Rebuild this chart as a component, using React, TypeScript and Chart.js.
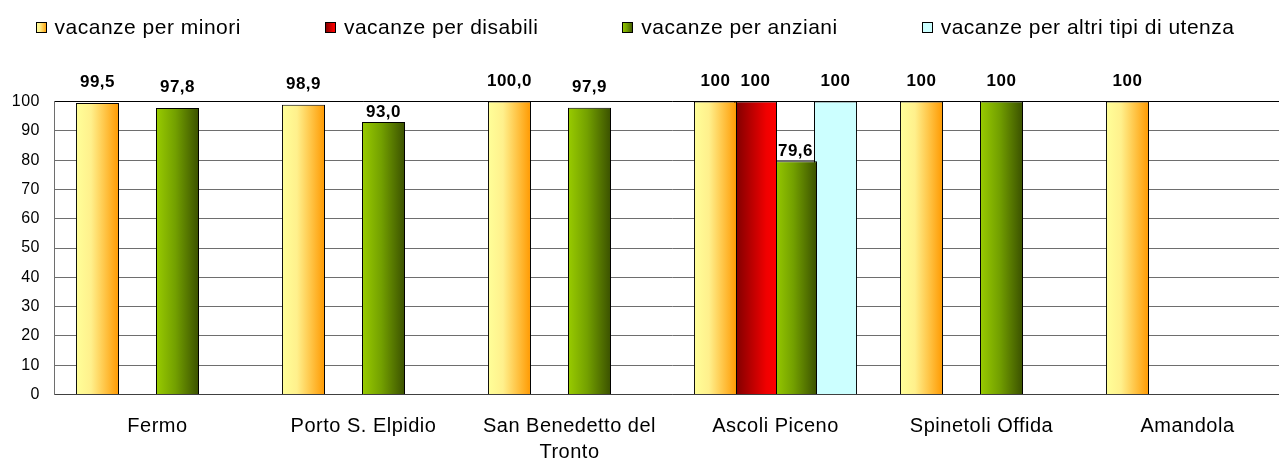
import React, { useEffect, useRef } from 'react';
import { Chart, registerables } from 'chart.js';

Chart.register(...registerables);

const FONT = "'Liberation Sans', Arial, Helvetica, sans-serif";

const categories: string[][] = [
  ['Fermo'],
  ['Porto S. Elpidio'],
  ['San Benedetto del', 'Tronto'],
  ['Ascoli Piceno'],
  ['Spinetoli Offida'],
  ['Amandola'],
];

const seriesNames = [
  'vacanze per minori',
  'vacanze per disabili',
  'vacanze per anziani',
  'vacanze per altri tipi di utenza',
];

const minori: (number | null)[] = [99.5, 98.9, 100, 100, 100, 100];
const disabili: (number | null)[] = [null, null, null, 100, null, null];
const anziani: (number | null)[] = [97.8, 93.0, 97.9, 79.6, 100, null];
const altri: (number | null)[] = [null, null, null, 100, null, null];

const minoriLabels = ['99,5', '98,9', '100,0', '100', '100', '100'];
const disabiliLabels = ['', '', '', '100', '', ''];
const anzianiLabels = ['97,8', '93,0', '97,9', '79,6', '100', ''];
const altriLabels = ['', '', '', '100', '', ''];

const yMin = 0;
const yMax = 100;
const yStep = 10;

const seriesValues = [minori, disabili, anziani, altri];
const seriesLabels = [minoriLabels, disabiliLabels, anzianiLabels, altriLabels];

// gradient stops (left -> right) for each series
const seriesFills: [number, string][][] = [
  [[0, '#FFFF99'], [0.35, '#FFF08C'], [1, '#FF9900']],
  [[0, '#7A0000'], [0.75, '#F00000'], [1, '#FF0000']],
  [[0, '#99CC00'], [0.45, '#73A000'], [1, '#3A5000']],
  [[0, '#CCFFFF'], [1, '#CCFFFF']],
];

function makeGradient(ctx: CanvasRenderingContext2D, x0: number, x1: number, stops: [number, string][]) {
  const g = ctx.createLinearGradient(x0, 0, x1, 0);
  stops.forEach(([o, c]) => g.addColorStop(o, c));
  return g;
}

const letterSpacingPlugin = {
  id: 'letterSpacing',
  beforeDraw(chart: any) {
    (chart.ctx as any).letterSpacing = '0.5px';
  },
};

const gradientPlugin = {
  id: 'barGradients',
  beforeDatasetsDraw(chart: any) {
    const ctx = chart.ctx as CanvasRenderingContext2D;
    chart.data.datasets.forEach((_ds: any, di: number) => {
      const meta = chart.getDatasetMeta(di);
      meta.data.forEach((el: any, i: number) => {
        if (seriesValues[di][i] == null) return;
        const { x, width } = el.getProps(['x', 'width'], true);
        const g = makeGradient(ctx, x - width / 2, x + width / 2, seriesFills[di]);
        el.options = { ...el.options, backgroundColor: g };
      });
    });
  },
};

const valueLabelPlugin = {
  id: 'valueLabels',
  afterDatasetsDraw(chart: any) {
    const ctx = chart.ctx as CanvasRenderingContext2D;
    ctx.save();
    (ctx as any).letterSpacing = '0.5px';
    ctx.font = `bold 17px ${FONT}`;
    ctx.fillStyle = '#000';
    ctx.textAlign = 'center';
    ctx.textBaseline = 'alphabetic';
    seriesLabels.forEach((labels, di) => {
      const meta = chart.getDatasetMeta(di);
      meta.data.forEach((el: any, i: number) => {
        const v = seriesValues[di][i];
        if (v == null) return;
        const gap = v >= 95 ? 15.5 : 5.5;
        ctx.fillText(labels[i], el.x, el.y - gap);
      });
    });
    ctx.restore();
  },
};

const legendPlugin = {
  id: 'customLegend',
  afterDraw(chart: any) {
    const ctx = chart.ctx as CanvasRenderingContext2D;
    ctx.save();
    ctx.font = `21px ${FONT}`;
    (ctx as any).letterSpacing = '0.5px';
    const box = 11;
    const gap = 8;
    const spacing = 84;
    const centerX = 635;
    const cy = 27;
    const widths = seriesNames.map((n) => ctx.measureText(n).width);
    const total = widths.reduce((a, w) => a + box + gap + w, 0) + spacing * (seriesNames.length - 1);
    let x = centerX - total / 2;
    seriesNames.forEach((name, i) => {
      const top = Math.round(cy - box / 2);
      const left = Math.round(x);
      ctx.fillStyle = makeGradient(ctx, left, left + box, seriesFills[i]);
      ctx.fillRect(left, top, box, box);
      ctx.strokeStyle = '#000';
      ctx.lineWidth = 1;
      ctx.strokeRect(left + 0.5, top + 0.5, box - 1, box - 1);
      ctx.fillStyle = '#000';
      ctx.textAlign = 'left';
      ctx.textBaseline = 'middle';
      ctx.fillText(name, x + box + gap, cy + 1);
      x += box + gap + widths[i] + spacing;
    });
    ctx.restore();
  },
};

export default function App() {
  const canvasRef = useRef<HTMLCanvasElement | null>(null);

  useEffect(() => {
    if (!canvasRef.current) return;
    const chart = new Chart(canvasRef.current, {
      type: 'bar',
      data: {
        labels: categories,
        datasets: seriesNames.map((name, di) => ({
          label: name,
          data: seriesValues[di],
          backgroundColor: seriesFills[di][0][1],
          borderColor: '#000',
          borderWidth: 1,
          categoryPercentage: 0.777,
          barPercentage: 1.075,
        })),
      },
      options: {
        animation: false,
        responsive: false,
        devicePixelRatio: 1,
        layout: { padding: { top: 101.5, right: 9.5, bottom: 0, left: 0 } },
        plugins: {
          legend: { display: false },
          tooltip: { enabled: false },
          title: { display: false },
        },
        scales: {
          x: {
            grid: { display: false, drawTicks: false },
            border: { display: true, color: '#404040', width: 1 },
            ticks: {
              color: '#000',
              font: { family: FONT, size: 20, lineHeight: 26 / 20 },
              padding: 18.5,
              autoSkip: false,
              maxRotation: 0,
              minRotation: 0,
            },
            afterFit: (s: any) => {
              s.height = 66.5;
            },
          },
          y: {
            min: yMin,
            max: yMax,
            ticks: {
              stepSize: yStep,
              color: '#000',
              font: { family: FONT, size: 16 },
              padding: 14.5,
            },
            grid: {
              color: (c: any) => (c.tick && c.tick.value === yMax ? '#000' : '#6e6e6e'),
              lineWidth: 1,
              drawTicks: false,
            },
            border: { display: true, color: '#6e6e6e', width: 1 },
            afterFit: (s: any) => {
              s.width = 54.5;
            },
          },
        },
      },
      plugins: [letterSpacingPlugin, gradientPlugin, valueLabelPlugin, legendPlugin],
    });
    return () => chart.destroy();
  }, []);

  return (
    <div
      style={{
        position: 'fixed',
        left: 0,
        top: 0,
        width: 1279,
        height: 461,
        overflow: 'hidden',
        background: '#fff',
      }}
    >
      <canvas ref={canvasRef} width={1300} height={461} style={{ display: 'block' }} />
    </div>
  );
}
